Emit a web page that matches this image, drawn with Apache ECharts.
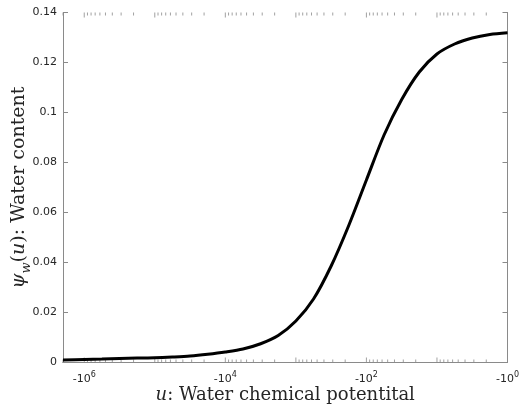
<!DOCTYPE html>
<html>
<head>
<meta charset="utf-8">
<script src="https://cdn.jsdelivr.net/npm/echarts@6/dist/echarts.min.js"></script>
<style>
html,body{margin:0;padding:0;background:#fff;}
#c{width:520px;height:406px;}
</style>
</head>
<body>
<div id="c"></div>
<script>
// |u| (magnitude of the water chemical potential, plotted as -|u|)
const absU = [2e6, 1e6, 5.62e5, 3.16e5, 1.78e5, 1e5, 5.62e4, 3.16e4, 1.78e4, 1e4, 5.62e3, 3.16e3, 1.78e3, 1e3, 562, 316, 178, 100, 56.2, 31.6, 17.8, 10, 5.62, 3.16, 1.78, 1];
// water content psi_w(u)
const waterContent = [0.0010, 0.0012, 0.00136, 0.00156, 0.00176, 0.0019, 0.0022, 0.0026, 0.0033, 0.0042, 0.0054, 0.0075, 0.0108, 0.0166, 0.0254, 0.0386, 0.0548, 0.0730, 0.0910, 0.1052, 0.1162, 0.1234, 0.1274, 0.1298, 0.1312, 0.1319];
// labelled decade exponents on the x axis (labels read "-10^n")
const xLabelExponents = [0, 2, 4, 6];
const yTicks = [0, 0.02, 0.04, 0.06, 0.08, 0.1, 0.12, 0.14];

const axisGray = '#8a8a8a';
const textDark = '#262626';

// tick positions for the log axis: decades (10^n) and minor ticks (k * 10^n)
const decadeTickVals = [];
const minorTickVals = [];
for (let n = 0; n <= 6; n++) {
  decadeTickVals.push(Math.pow(10, n));
  for (let k = 2; k <= 9; k++) {
    const v = k * Math.pow(10, n);
    if (v <= 2e6) minorTickVals.push(v);
  }
}

function xLabel(v) {
  const e = Math.log10(v);
  const r = Math.round(e);
  if (Math.abs(e - r) > 1e-6 || xLabelExponents.indexOf(r) < 0) return '';
  return '{m|-10}{s|' + r + '}';
}

const xBase = {
  type: 'log', logBase: 10, min: 1, max: 2e6, inverse: true,
  axisLine: { show: true, lineStyle: { color: axisGray, width: 1 } },
  axisTick: { show: false },
  splitLine: { show: false },
  minorTick: { show: false }
};
const yBase = {
  type: 'value', min: yTicks[0], max: yTicks[yTicks.length - 1], interval: 0.02,
  axisLine: { show: true, lineStyle: { color: axisGray, width: 1 } },
  axisTick: { show: true, inside: true, length: 5, lineStyle: { color: axisGray } },
  splitLine: { show: false }
};

function tickSeries(vals, yv, len, dir) {
  return {
    type: 'scatter', xAxisIndex: 0, yAxisIndex: 0, clip: false, silent: true,
    data: vals.map(v => [v, yv]),
    symbol: 'rect', symbolSize: [1, len], symbolOffset: [0, dir * len / 2],
    itemStyle: { color: axisGray }, z: 1
  };
}

const chart = echarts.init(document.getElementById('c'), null, { renderer: 'canvas' });
chart.setOption({
  animation: false,
  backgroundColor: '#fff',
  grid: { left: 63, right: 12.5, top: 12.5, bottom: 43.5, containLabel: false, outerBoundsMode: 'none' },
  xAxis: [
    Object.assign({}, xBase, {
      position: 'bottom',
      name: '{i|u}{n|: Water chemical potentital}',
      nameLocation: 'middle', nameGap: 24, nameMoveOverlap: false,
      nameTextStyle: {
        color: textDark,
        rich: {
          i: { fontFamily: 'DejaVu Serif', fontStyle: 'italic', fontSize: 18, color: textDark },
          n: { fontFamily: 'DejaVu Serif', fontSize: 18, color: textDark }
        }
      },
      axisLabel: {
        show: true, margin: 8, interval: 0, hideOverlap: false,
        showMinLabel: true, showMaxLabel: true,
        formatter: xLabel,
        rich: {
          m: { fontFamily: 'DejaVu Sans', fontSize: 11, color: textDark, verticalAlign: 'bottom' },
          s: { fontFamily: 'DejaVu Sans', fontSize: 8, color: textDark, verticalAlign: 'bottom', padding: [0, 0, 6, 0] }
        }
      }
    }),
    Object.assign({}, xBase, { position: 'top', axisLabel: { show: false } })
  ],
  yAxis: [
    Object.assign({}, yBase, {
      position: 'left',
      name: '{i|ψ}{sub|w}{n|(}{i|u}{n|): Water content}',
      nameLocation: 'middle', nameGap: 34, nameMoveOverlap: false,
      nameTextStyle: {
        color: textDark,
        rich: {
          i: { fontFamily: 'DejaVu Serif', fontStyle: 'italic', fontSize: 19, color: textDark, verticalAlign: 'bottom' },
          n: { fontFamily: 'DejaVu Serif', fontSize: 19, color: textDark, verticalAlign: 'bottom' },
          sub: { fontFamily: 'DejaVu Serif', fontStyle: 'italic', fontSize: 13, color: textDark, verticalAlign: 'bottom', padding: [0, 0, -4, 0] }
        }
      },
      axisLabel: {
        show: true, margin: 6, color: textDark, fontFamily: 'DejaVu Sans', fontSize: 11,
        formatter: function (v) { return String(+v.toFixed(2)); }
      }
    }),
    Object.assign({}, yBase, { position: 'right', axisLabel: { show: false } })
  ],
  series: [
    {
      type: 'line', xAxisIndex: 0, yAxisIndex: 0,
      data: absU.map((u, i) => [u, waterContent[i]]),
      smooth: 0.3, showSymbol: false, symbol: 'none',
      lineStyle: { color: '#000', width: 3 }, silent: true, z: 5
    },
    tickSeries(minorTickVals, yTicks[0], 3, -1),
    tickSeries(minorTickVals, yTicks[yTicks.length - 1], 3, 1),
    tickSeries(decadeTickVals, yTicks[0], 5, -1),
    tickSeries(decadeTickVals, yTicks[yTicks.length - 1], 5, 1)
  ]
});
</script>
</body>
</html>
